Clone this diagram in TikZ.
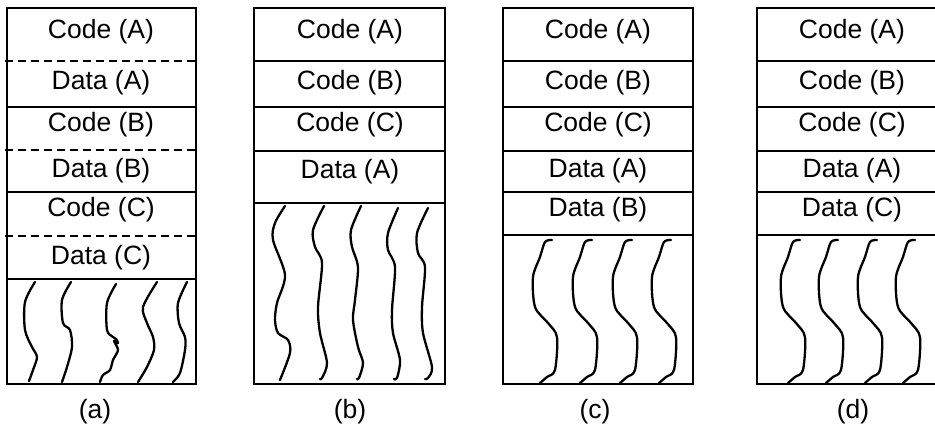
\documentclass[tikz,border=0pt]{standalone}
\usepackage{fontspec}
\setmainfont{Liberation Sans}
\begin{document}
\begin{tikzpicture}[x=1pt, y=-1pt, line width=2.7pt,
		labelstyle/.style={font=\fontsize{26.5}{30}\selectfont, inner sep=0pt, anchor=base},
		splitstyle/.style={dash pattern=on 8pt off 5pt},
		wavestyle/.style={line width=2.3pt, line join=round, line cap=round}]
	\useasboundingbox (0,0) rectangle (935,430);

	% (a) code and data of each program side by side
	\draw (7,8) rectangle (196,384);
	\foreach \y in {107,192,279}
		\draw (7,\y) -- (196,\y);
	\foreach \y in {61,150,236}
		\draw [splitstyle] (5,\y) -- (196,\y);
	\node [labelstyle] (a1) at (101,39) {Code (A)};
	\node [labelstyle] (a2) at (101,90) {Data (A)};
	\node [labelstyle] (a3) at (101,132) {Code (B)};
	\node [labelstyle] (a4) at (101,178) {Data (B)};
	\node [labelstyle] (a5) at (101,217) {Code (C)};
	\node [labelstyle] (a6) at (101,265) {Data (C)};
	\node [labelstyle] (capa) at (95,419) {(a)};

	\draw [wavestyle] plot [smooth] coordinates {(35,282) (25,302) (25,330) (32,347) (37,357) (33,370) (29,381)};
	\draw [wavestyle] plot [smooth] coordinates {(71,282) (62,300) (63,323) (70,330) (72,347) (67,367) (62,382)};
	\draw [wavestyle] plot [smooth] coordinates {(116,284) (107,303) (107,330) (113,337) (116,339) (118,343) (114,341) (118,350) (113,360) (110,370) (103,375) (100,382)};
	\draw [wavestyle] plot [smooth] coordinates {(157,282) (143,307) (147,323) (153,337) (154,350) (147,367) (138,382)};
	\draw [wavestyle] plot [smooth] coordinates {(187,282) (178,303) (179,323) (185,337) (185,350) (180,373) (173,382)};

	% (b) codes first, one data
	\draw (254,8) rectangle (445,384);
	\foreach \y in {61,107,151,203}
		\draw (254,\y) -- (445,\y);
	\node [labelstyle] (b1) at (350,39) {Code (A)};
	\node [labelstyle] (b2) at (350,90) {Code (B)};
	\node [labelstyle] (b3) at (350,132) {Code (C)};
	\node [labelstyle] (b4) at (350,179) {Data (A)};
	\node [labelstyle] (capb) at (350,419) {(b)};

	\draw [wavestyle] plot [smooth] coordinates {(285,206) (275,223) (273,240) (285,275) (277,303) (275,320) (278,333) (288,340) (290,353) (280,380)};
	\draw [wavestyle] plot [smooth] coordinates {(324,206) (313,230) (315,247) (322,263) (318,307) (320,333) (327,363) (322,378) (320,379)};
	\draw [wavestyle] plot [smooth] coordinates {(361,206) (351,230) (352,247) (358,267) (355,300) (353,320) (358,347) (363,363) (359,378) (357,379)};
	\draw [wavestyle] plot [smooth] coordinates {(398,208) (388,233) (388,250) (395,267) (392,310) (393,333) (400,360) (397,378) (394,379)};
	\draw [wavestyle] plot [smooth] coordinates {(428,208) (417,233) (418,253) (425,267) (422,307) (423,333) (432,367) (428,378) (425,379)};

	% (c) and (d) codes first, two data
	\draw (503,8) rectangle (693,384);
	\draw (757,8) rectangle (947,384);
	\foreach \x in {503,757}
		\foreach \y in {61,107,151,192,235}
			\draw (\x,\y) -- ++(190,0);
	\node [labelstyle] (c1) at (598,39) {Code (A)};
	\node [labelstyle] (c2) at (598,90) {Code (B)};
	\node [labelstyle] (c3) at (598,132) {Code (C)};
	\node [labelstyle] (c4) at (598,178) {Data (A)};
	\node [labelstyle] (c5) at (598,217) {Data (B)};
	\node [labelstyle] (capc) at (595,419) {(c)};
	\node [labelstyle] (d1) at (852,39) {Code (A)};
	\node [labelstyle] (d2) at (852,90) {Code (B)};
	\node [labelstyle] (d3) at (852,132) {Code (C)};
	\node [labelstyle] (d4) at (852,178) {Data (A)};
	\node [labelstyle] (d5) at (852,217) {Data (C)};
	\node [labelstyle] (capd) at (853,419) {(d)};

	\foreach \x in {552,592,632,671,800,838,877,915}
		\draw [wavestyle, shift={(\x,240)}] plot [smooth] coordinates {(0,0) (-7,2) (-12,17) (-19,37) (-17,67) (-4,83) (5,97) (3,130) (-5,137) (-12,143)};
\end{tikzpicture}
\end{document}
